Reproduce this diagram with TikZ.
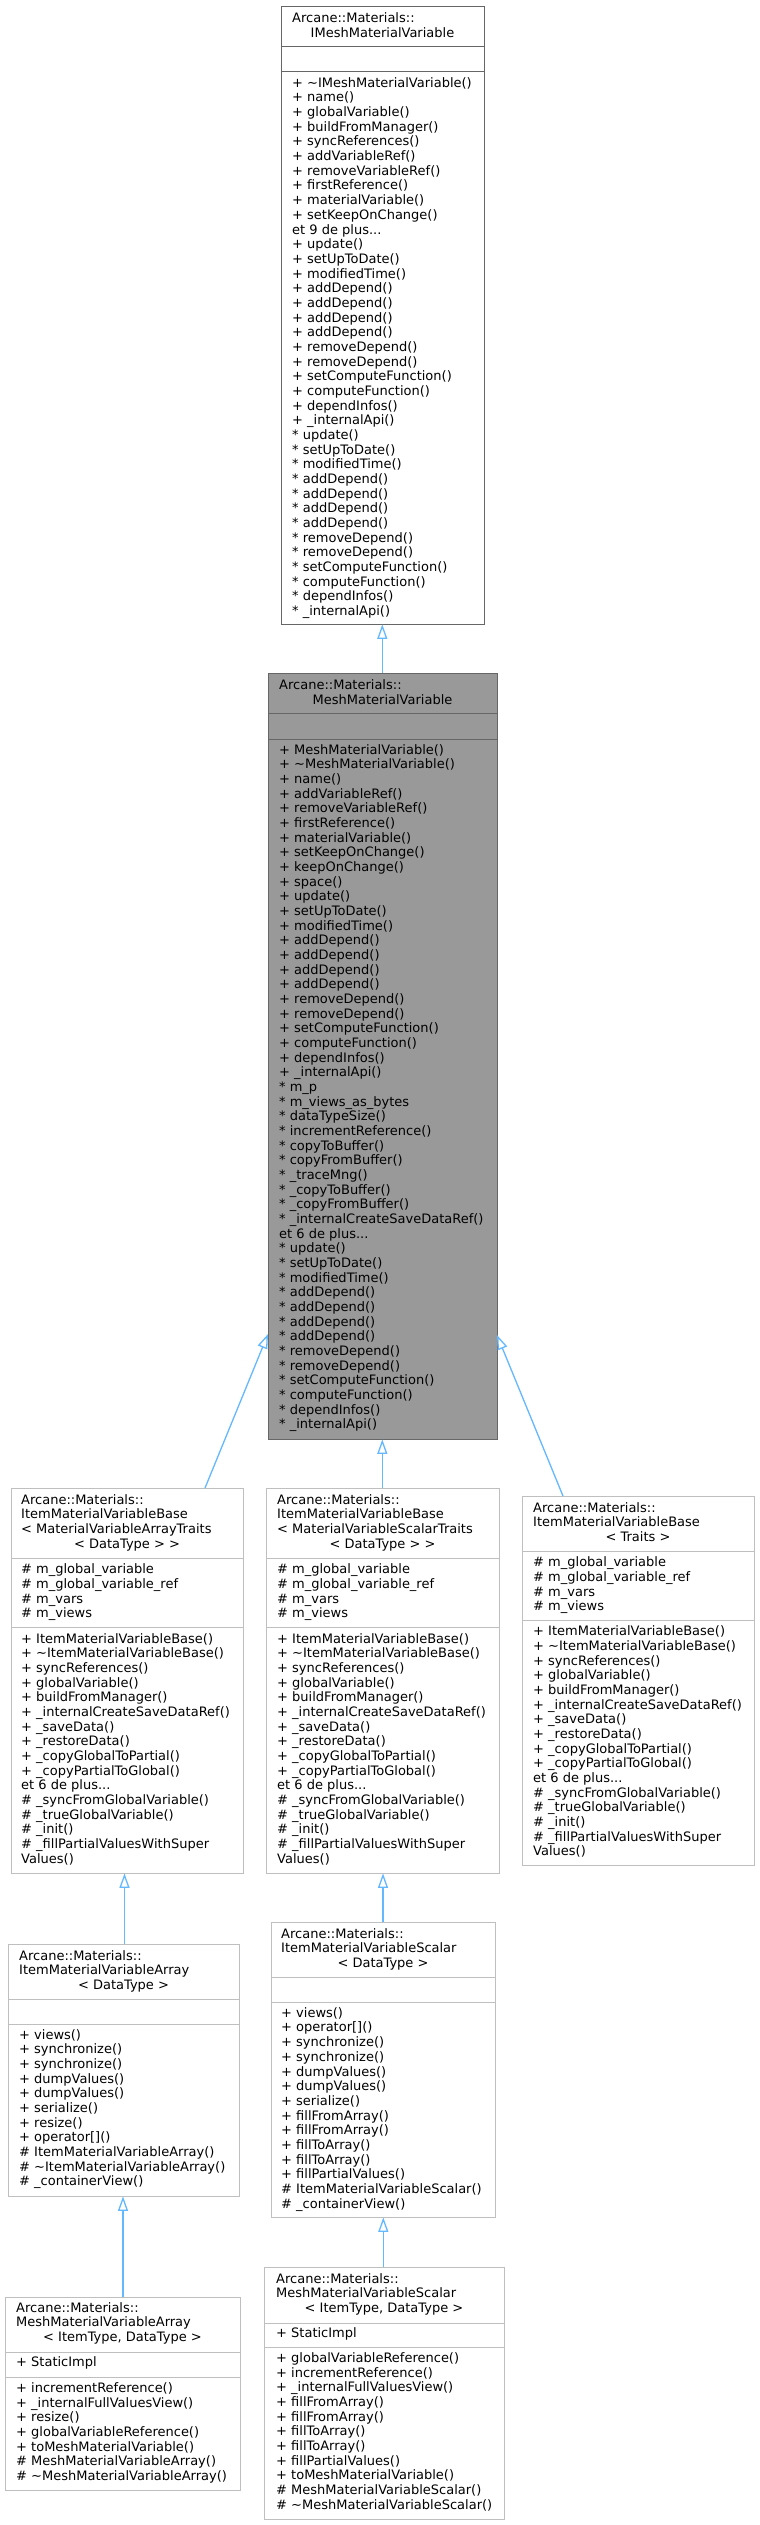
\documentclass[tikz,border=0pt]{standalone}
\usepackage{fontspec}
\setmainfont{DejaVu Sans}
\usetikzlibrary{arrows.meta}
\definecolor{arrowc}{HTML}{63B8FF}
\definecolor{dgrey}{HTML}{666666}
\definecolor{lgrey}{HTML}{BFBFBF}
\definecolor{fillg}{HTML}{999999}
\newcommand\tld{\textasciitilde}
\newcommand\tdots{...}
\newcommand\dfont{\fontsize{13}{15}\selectfont}
\newcommand\mylines[4]{%
  \foreach \t [count=\i from 0] in {#4} {\node[txt] (#1\i) at (#2,{#3+\i*14.67}) {\t};}}
\tikzset{
  txt/.style={anchor=base west, inner sep=0pt, font=\dfont},
  ctxt/.style={anchor=base, inner sep=0pt, font=\dfont},
  wbox/.style={draw=lgrey, fill=white, line width=1pt},
  dbox/.style={draw=dgrey, fill=white, line width=1pt},
  gbox/.style={draw=dgrey, fill=fillg, line width=1pt},
  lsep/.style={draw=lgrey, line width=1pt},
  dsep/.style={draw=dgrey, line width=1pt},
  inh/.style={draw=arrowc, line width=1.3pt, -{Triangle[open, length=14.5pt, width=10pt, fill=white]}},
}
\begin{document}
\begin{tikzpicture}[x=1pt, y=-1pt]
\useasboundingbox[fill=white] (0,0) rectangle (760,2525);

% ---------- IMeshMaterialVariable ----------
\path[dbox] (281,6) rectangle (484,624);
\node[inner sep=0pt, minimum width=203pt, minimum height=618pt, anchor=north west] (imv) at (281,6) {};
\draw[dsep] (281,46) -- (484,46);
\draw[dsep] (281,71) -- (484,71);
\node[txt] (imvt1) at (292,22.3) {Arcane::Materials::};
\node[ctxt] (imvt2) at (382.5,37.3) {IMeshMaterialVariable};
\mylines{imvm}{292}{87.3}{{+ \tld IMeshMaterialVariable()},{+ name()},{+ globalVariable()},{+ buildFromManager()},{+ syncReferences()},{+ addVariableRef()},{+ removeVariableRef()},{+ firstReference()},{+ materialVariable()},{+ setKeepOnChange()},{et 9 de plus\tdots},{+ update()},{+ setUpToDate()},{+ modifiedTime()},{+ addDepend()},{+ addDepend()},{+ addDepend()},{+ addDepend()},{+ removeDepend()},{+ removeDepend()},{+ setComputeFunction()},{+ computeFunction()},{+ dependInfos()},{+ \_internalApi()},{* update()},{* setUpToDate()},{* modifiedTime()},{* addDepend()},{* addDepend()},{* addDepend()},{* addDepend()},{* removeDepend()},{* removeDepend()},{* setComputeFunction()},{* computeFunction()},{* dependInfos()},{* \_internalApi()}}

% ---------- MeshMaterialVariable ----------
\path[gbox] (268,673) rectangle (497,1439);
\node[inner sep=0pt, minimum width=229pt, minimum height=766pt, anchor=north west] (mmv) at (268,673) {};
\draw[dsep] (268,713) -- (497,713);
\draw[dsep] (268,739) -- (497,739);
\node[txt] (mmvt1) at (279,689.7) {Arcane::Materials::};
\node[ctxt] (mmvt2) at (382.5,704.7) {MeshMaterialVariable};
\mylines{mmvm}{279}{754}{{+ MeshMaterialVariable()},{+ \tld MeshMaterialVariable()},{+ name()},{+ addVariableRef()},{+ removeVariableRef()},{+ firstReference()},{+ materialVariable()},{+ setKeepOnChange()},{+ keepOnChange()},{+ space()},{+ update()},{+ setUpToDate()},{+ modifiedTime()},{+ addDepend()},{+ addDepend()},{+ addDepend()},{+ addDepend()},{+ removeDepend()},{+ removeDepend()},{+ setComputeFunction()},{+ computeFunction()},{+ dependInfos()},{+ \_internalApi()},{* m\_p},{* m\_views\_as\_bytes},{* dataTypeSize()},{* incrementReference()},{* copyToBuffer()},{* copyFromBuffer()},{* \_traceMng()},{* \_copyToBuffer()},{* \_copyFromBuffer()},{* \_internalCreateSaveDataRef()},{et 6 de plus\tdots},{* update()},{* setUpToDate()},{* modifiedTime()},{* addDepend()},{* addDepend()},{* addDepend()},{* addDepend()},{* removeDepend()},{* removeDepend()},{* setComputeFunction()},{* computeFunction()},{* dependInfos()},{* \_internalApi()}}

% ---------- ItemMaterialVariableBase<ArrayTraits> ----------
\path[wbox] (11,1488) rectangle (243,1873);
\node[inner sep=0pt, minimum width=232pt, minimum height=385pt, anchor=north west] (iba) at (11,1488) {};
\draw[lsep] (11,1558) -- (243,1558);
\draw[lsep] (11,1627) -- (243,1627);
\mylines{ibat}{21}{1504}{{Arcane::Materials::},{ItemMaterialVariableBase},{< MaterialVariableArrayTraits}}
\node[ctxt] (ibat3) at (127,1548.3) {< DataType > >};
\mylines{ibaa}{21}{1573.7}{{\# m\_global\_variable},{\# m\_global\_variable\_ref},{\# m\_vars},{\# m\_views}}
\mylines{ibam}{21}{1643}{{+ ItemMaterialVariableBase()},{+ \tld ItemMaterialVariableBase()},{+ syncReferences()},{+ globalVariable()},{+ buildFromManager()},{+ \_internalCreateSaveDataRef()},{+ \_saveData()},{+ \_restoreData()},{+ \_copyGlobalToPartial()},{+ \_copyPartialToGlobal()},{et 6 de plus\tdots},{\# \_syncFromGlobalVariable()},{\# \_trueGlobalVariable()},{\# \_init()},{\# \_fillPartialValuesWithSuper},{Values()}}

% ---------- ItemMaterialVariableBase<ScalarTraits> ----------
\path[wbox] (266,1488) rectangle (499,1873);
\node[inner sep=0pt, minimum width=233pt, minimum height=385pt, anchor=north west] (ibs) at (266,1488) {};
\draw[lsep] (266,1558) -- (499,1558);
\draw[lsep] (266,1627) -- (499,1627);
\mylines{ibst}{277}{1504}{{Arcane::Materials::},{ItemMaterialVariableBase},{< MaterialVariableScalarTraits}}
\node[ctxt] (ibst3) at (382.5,1548.3) {< DataType > >};
\mylines{ibsa}{277}{1573.7}{{\# m\_global\_variable},{\# m\_global\_variable\_ref},{\# m\_vars},{\# m\_views}}
\mylines{ibsm}{277}{1643}{{+ ItemMaterialVariableBase()},{+ \tld ItemMaterialVariableBase()},{+ syncReferences()},{+ globalVariable()},{+ buildFromManager()},{+ \_internalCreateSaveDataRef()},{+ \_saveData()},{+ \_restoreData()},{+ \_copyGlobalToPartial()},{+ \_copyPartialToGlobal()},{et 6 de plus\tdots},{\# \_syncFromGlobalVariable()},{\# \_trueGlobalVariable()},{\# \_init()},{\# \_fillPartialValuesWithSuper},{Values()}}

% ---------- ItemMaterialVariableBase<Traits> ----------
\path[wbox] (522,1496) rectangle (754,1865);
\node[inner sep=0pt, minimum width=232pt, minimum height=369pt, anchor=north west] (ibt) at (522,1496) {};
\draw[lsep] (522,1551) -- (754,1551);
\draw[lsep] (522,1620) -- (754,1620);
\mylines{ibtt}{533}{1512.3}{{Arcane::Materials::},{ItemMaterialVariableBase}}
\node[ctxt] (ibtt2) at (638,1541.7) {< Traits >};
\mylines{ibta}{533}{1566.7}{{\# m\_global\_variable},{\# m\_global\_variable\_ref},{\# m\_vars},{\# m\_views}}
\mylines{ibtm}{533}{1635.7}{{+ ItemMaterialVariableBase()},{+ \tld ItemMaterialVariableBase()},{+ syncReferences()},{+ globalVariable()},{+ buildFromManager()},{+ \_internalCreateSaveDataRef()},{+ \_saveData()},{+ \_restoreData()},{+ \_copyGlobalToPartial()},{+ \_copyPartialToGlobal()},{et 6 de plus\tdots},{\# \_syncFromGlobalVariable()},{\# \_trueGlobalVariable()},{\# \_init()},{\# \_fillPartialValuesWithSuper},{Values()}}

% ---------- ItemMaterialVariableArray ----------
\path[wbox] (8,1944) rectangle (239,2196);
\node[inner sep=0pt, minimum width=231pt, minimum height=252pt, anchor=north west] (ia) at (8,1944) {};
\draw[lsep] (8,1999) -- (239,1999);
\draw[lsep] (8,2024) -- (239,2024);
\mylines{iat}{19}{1960}{{Arcane::Materials::},{ItemMaterialVariableArray}}
\node[ctxt] (iat2) at (123.5,1989.3) {< DataType >};
\mylines{iam}{19}{2039}{{+ views()},{+ synchronize()},{+ synchronize()},{+ dumpValues()},{+ dumpValues()},{+ serialize()},{+ resize()},{+ operator[]()},{\# ItemMaterialVariableArray()},{\# \tld ItemMaterialVariableArray()},{\# \_containerView()}}

% ---------- MeshMaterialVariableArray ----------
\path[wbox] (5,2297) rectangle (240,2490);
\node[inner sep=0pt, minimum width=235pt, minimum height=193pt, anchor=north west] (ma) at (5,2297) {};
\draw[lsep] (5,2352) -- (240,2352);
\draw[lsep] (5,2377) -- (240,2377);
\mylines{mat}{16}{2312.3}{{Arcane::Materials::},{MeshMaterialVariableArray}}
\node[ctxt] (mat2) at (122.5,2341.7) {< ItemType, DataType >};
\node[txt] (maa0) at (16,2366.7) {+ StaticImpl};
\mylines{mam}{16}{2392.3}{{+ incrementReference()},{+ \_internalFullValuesView()},{+ resize()},{+ globalVariableReference()},{+ toMeshMaterialVariable()},{\# MeshMaterialVariableArray()},{\# \tld MeshMaterialVariableArray()}}

% ---------- ItemMaterialVariableScalar ----------
\path[wbox] (271,1922) rectangle (495,2217);
\node[inner sep=0pt, minimum width=224pt, minimum height=295pt, anchor=north west] (is) at (271,1922) {};
\draw[lsep] (271,1977) -- (495,1977);
\draw[lsep] (271,2002) -- (495,2002);
\mylines{ist}{281}{1938.3}{{Arcane::Materials::},{ItemMaterialVariableScalar}}
\node[ctxt] (ist2) at (383,1967.7) {< DataType >};
\mylines{ism}{281}{2017.3}{{+ views()},{+ operator[]()},{+ synchronize()},{+ synchronize()},{+ dumpValues()},{+ dumpValues()},{+ serialize()},{+ fillFromArray()},{+ fillFromArray()},{+ fillToArray()},{+ fillToArray()},{+ fillPartialValues()},{\# ItemMaterialVariableScalar()},{\# \_containerView()}}

% ---------- MeshMaterialVariableScalar ----------
\path[wbox] (264,2267) rectangle (504,2519);
\node[inner sep=0pt, minimum width=240pt, minimum height=252pt, anchor=north west] (ms) at (264,2267) {};
\draw[lsep] (264,2323) -- (504,2323);
\draw[lsep] (264,2347) -- (504,2347);
\mylines{mst}{276}{2283.3}{{Arcane::Materials::},{MeshMaterialVariableScalar}}
\node[ctxt] (mst2) at (384,2312.7) {< ItemType, DataType >};
\node[txt] (msa0) at (276,2337.3) {+ StaticImpl};
\mylines{msm}{276}{2362.3}{{+ globalVariableReference()},{+ incrementReference()},{+ \_internalFullValuesView()},{+ fillFromArray()},{+ fillFromArray()},{+ fillToArray()},{+ fillToArray()},{+ fillPartialValues()},{+ toMeshMaterialVariable()},{\# MeshMaterialVariableScalar()},{\# \tld MeshMaterialVariableScalar()}}

% ---------- inheritance arrows ----------
\coordinate (ibaN) at (205,1488);
\coordinate (mmvL) at (268,1334);
\coordinate (ibtN) at (563,1496);
\coordinate (mmvR) at (497,1335);
\draw[inh] (mmv.north -| 382.3,0) -- (imv.south -| 382.3,0);
\draw[inh] (ibaN) -- (mmvL);
\draw[inh] (ibs.north -| 382.3,0) -- (mmv.south -| 382.3,0);
\draw[inh] (ibtN) -- (mmvR);
\draw[inh] (ia.north -| 124.5,0) -- (iba.south -| 124.5,0);
\draw[inh] (ma.north -| 123,0) -- (ia.south -| 123,0);
\draw[inh] (is.north -| 383,0) -- (ibs.south -| 383,0);
\draw[inh] (ms.north -| 383.3,0) -- (is.south -| 383.3,0);
\end{tikzpicture}
\end{document}
